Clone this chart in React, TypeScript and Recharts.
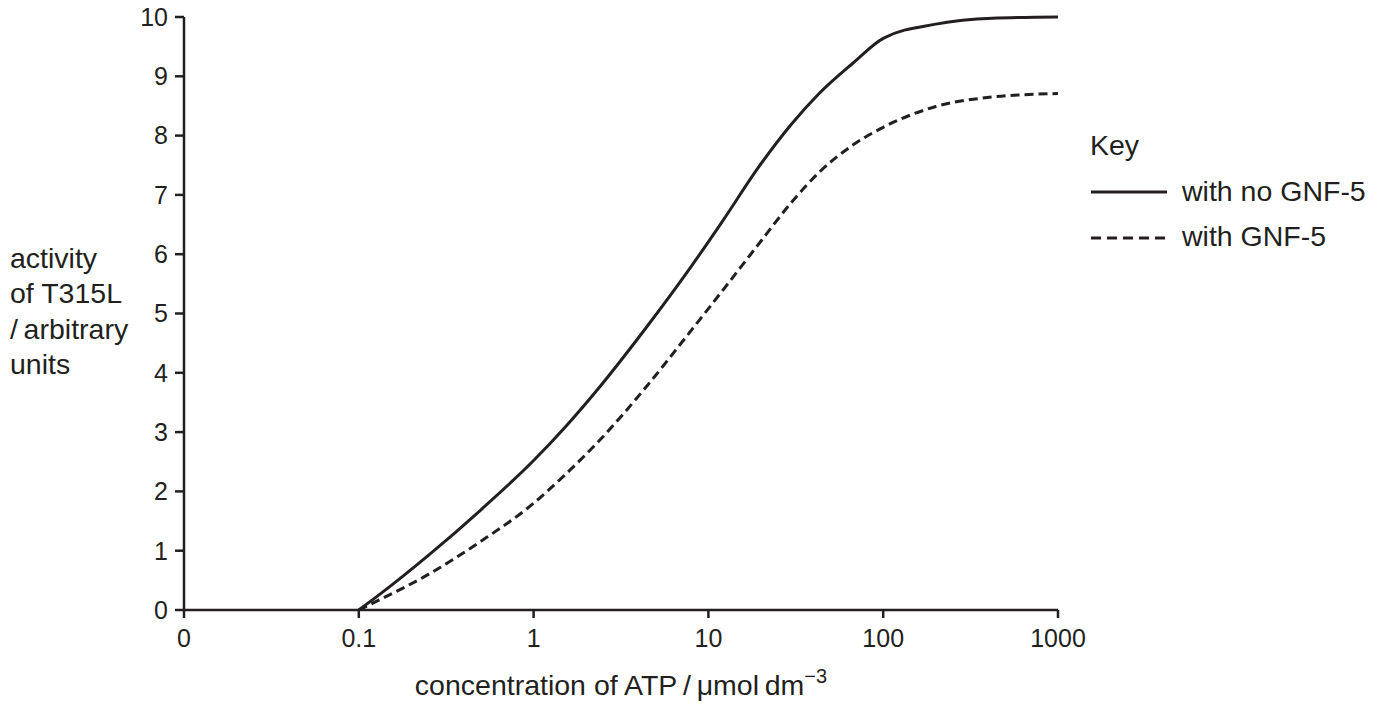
import React from "react";
import { LineChart, Line, XAxis, YAxis, Legend, Label } from "recharts";

// concentration of ATP / µmol dm^-3
const concentrations = [0.1, 0.13, 0.25, 0.5, 1, 1.5, 2.4, 4.4, 8, 12, 19.5, 30, 43, 67, 100, 200, 420, 1000];
// activity of T315L / arbitrary units
const noGnf5 = [0, 0.25, 0.92, 1.69, 2.52, 3.07, 3.77, 4.76, 5.8, 6.55, 7.48, 8.2, 8.71, 9.22, 9.64, 9.88, 9.98, 10];
const withGnf5 = [0, 0.165, 0.6, 1.16, 1.8, 2.27, 2.87, 3.76, 4.72, 5.38, 6.18, 6.88, 7.38, 7.84, 8.14, 8.49, 8.65, 8.71];

const xTicks = [0.01, 0.1, 1, 10, 100, 1000];
const xTickLabels = ["0", "0.1", "1", "10", "100", "1000"];
const yTicks = [0, 1, 2, 3, 4, 5, 6, 7, 8, 9, 10];
const yLabelLines = ["activity", "of T315L", "/\u2009arbitrary", "units"];
const seriesNames = ["with no GNF-5", "with GNF-5"];

const data = concentrations.map((c, i) => ({ conc: c, a: noGnf5[i], b: withGnf5[i] }));

const INK = "#231f20";
const FONT = "'Liberation Sans', Arial, Helvetica, sans-serif";
const TICK_FS = 25;
const LABEL_FS = 28.5;

const KeyLegend = () => (
  <svg width={300} height={140} style={{ display: "block", fontFamily: FONT }}>
    <text x={5} y={35} fontSize={LABEL_FS} fill={INK}>Key</text>
    <line x1={6} x2={82} y1={72} y2={72} stroke={INK} strokeWidth={3} />
    <text x={97} y={81} fontSize={LABEL_FS} fill={INK}>{seriesNames[0]}</text>
    <line x1={6} x2={82} y1={118} y2={118} stroke={INK} strokeWidth={3} strokeDasharray="10 6" />
    <text x={97} y={126} fontSize={LABEL_FS} fill={INK}>{seriesNames[1]}</text>
  </svg>
);

export default function App() {
  return (
    <div style={{ position: "absolute", left: 0, top: 0, fontFamily: FONT }}>
      <LineChart
        width={1389}
        height={708}
        data={data}
        margin={{ top: 17, right: 31, left: 0, bottom: 58 }}
      >
        <XAxis
          dataKey="conc"
          type="number"
          scale="log"
          domain={[0.01, 1000]}
          ticks={xTicks}
          interval={0}
          allowDataOverflow
          height={40}
          tickFormatter={(v: number) => xTickLabels[xTicks.indexOf(v)] ?? String(v)}
          tick={{ fill: INK, fontSize: TICK_FS, fontFamily: FONT }}
          tickSize={8}
          tickMargin={11}
          axisLine={{ stroke: INK, strokeWidth: 2.5 }}
          tickLine={{ stroke: INK, strokeWidth: 2.5 }}
        >
          <Label
            content={() => (
              <text x={621} y={695} textAnchor="middle" fontSize={LABEL_FS} fill={INK} fontFamily={FONT}>
                concentration of ATP{"\u2009/\u2009"}μmol{"\u2009"}dm
                <tspan dy={-12} fontSize={20}>−3</tspan>
              </text>
            )}
          />
        </XAxis>
        <YAxis
          type="number"
          domain={[0, 10]}
          ticks={yTicks}
          interval={0}
          width={184}
          tick={{ fill: INK, fontSize: TICK_FS, fontFamily: FONT }}
          tickSize={9}
          tickMargin={7}
          axisLine={{ stroke: INK, strokeWidth: 2.5 }}
          tickLine={{ stroke: INK, strokeWidth: 2.5 }}
        >
          <Label
            content={() => (
              <text x={10} y={268} fontSize={LABEL_FS} fill={INK} fontFamily={FONT}>
                {yLabelLines.map((l, i) => (
                  <tspan key={i} x={10} y={268 + i * 35.3}>{l}</tspan>
                ))}
              </text>
            )}
          />
        </YAxis>
        <Legend
          content={() => <KeyLegend />}
          layout="vertical"
          verticalAlign="top"
          align="right"
          wrapperStyle={{ top: 120, left: 1085, width: 300 }}
        />
        <Line
          type="monotone"
          dataKey="a"
          name={seriesNames[0]}
          stroke={INK}
          strokeWidth={3}
          dot={false}
          isAnimationActive={false}
        />
        <Line
          type="monotone"
          dataKey="b"
          name={seriesNames[1]}
          stroke={INK}
          strokeWidth={3}
          strokeDasharray="9 5"
          dot={false}
          isAnimationActive={false}
        />
      </LineChart>
    </div>
  );
}
